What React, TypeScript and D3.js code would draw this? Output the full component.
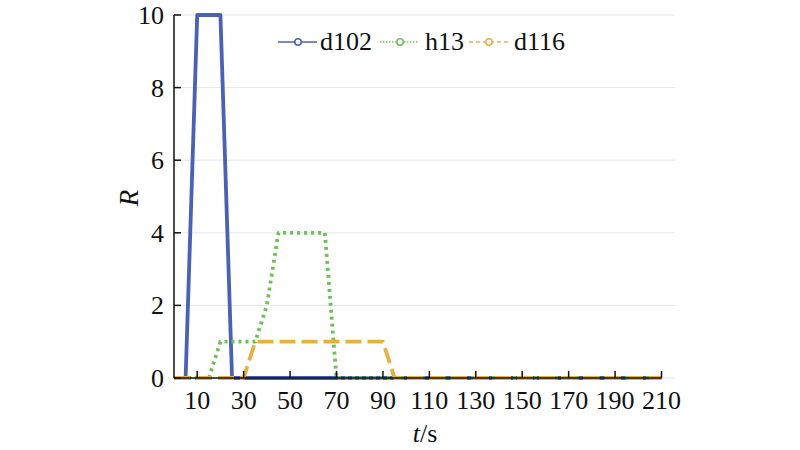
import React from "react";
import * as d3 from "d3";

const tD102 = [5, 10, 15, 20, 25, 30, 40, 50, 60, 70, 80, 90, 100, 110, 120, 130, 140, 150, 160, 170, 180, 190, 200, 210];
const vD102 = [0, 10, 10, 10, 0, 0, 0, 0, 0, 0, 0, 0, 0, 0, 0, 0, 0, 0, 0, 0, 0, 0, 0, 0];
const tH13 = [0, 5, 10, 15, 20, 25, 30, 35, 40, 45, 50, 55, 60, 65, 70, 80, 90, 100, 110, 120, 130, 140, 150, 160, 170, 180, 190, 200, 210];
const vH13 = [0, 0, 0, 0, 1, 1, 1, 1, 2, 4, 4, 4, 4, 4, 0, 0, 0, 0, 0, 0, 0, 0, 0, 0, 0, 0, 0, 0, 0];
const tD116 = [0, 10, 20, 30, 35, 40, 50, 60, 70, 80, 90, 95, 100, 110, 120, 130, 140, 150, 160, 170, 180, 190, 200, 210];
const vD116 = [0, 0, 0, 0, 1, 1, 1, 1, 1, 1, 1, 0, 0, 0, 0, 0, 0, 0, 0, 0, 0, 0, 0, 0];
const xTicks = [10, 30, 50, 70, 90, 110, 130, 150, 170, 190, 210];
const yTicks = [0, 2, 4, 6, 8, 10];
const seriesNames = ["d102", "h13", "d116"];

const COLORS = ["#4A61B4", "#6FC05C", "#E8B040"];
const DASH = [null, "3,4", "16,6"];
const LEGEND_DASH = [null, "1.5,1.5", "4,3"];

export default function App() {
  const x = d3.scaleLinear().domain([0, 210]).range([174, 661.5]);
  const y = d3.scaleLinear().domain([0, 10]).range([378, 15]);
  const font = '"Liberation Serif", "Times New Roman", Times, serif';
  const fs = 26;

  const series = [
    tD102.map((t, i) => [t, vD102[i]] as [number, number]),
    tH13.map((t, i) => [t, vH13[i]] as [number, number]),
    tD116.map((t, i) => [t, vD116[i]] as [number, number]),
  ];
  const line = d3.line<[number, number]>().x((d) => x(d[0])).y((d) => y(d[1]));

  const Txt = ({ tx, ty, anchor, children }: any) => (
    <text x={tx} y={ty} textAnchor={anchor || "start"} fill="#111" style={{ fontFamily: font, fontSize: `${fs}px` }}>
      {children}
    </text>
  );

  const legendX = [278, 380, 469];
  const legendTextX = [320, 425, 514];

  return (
    <svg width={800} height={450} style={{ position: "absolute", left: 0, top: 0, background: "#fff" }}>
      {yTicks.map((v) => (
        <line key={"g" + v} x1={174} x2={675} y1={y(v)} y2={y(v)} stroke="#E4E6F2" strokeWidth={1} />
      ))}
      {series.map((s, i) => (
        <path
          key={"s" + i}
          d={line(s) || ""}
          fill="none"
          stroke={COLORS[i]}
          strokeWidth={3.8}
          strokeDasharray={DASH[i] || undefined}
          strokeLinejoin="round"
        />
      ))}
      <line x1={174} x2={174} y1={y(10)} y2={y(0)} stroke="#111" strokeWidth={1.5} />
      <line x1={174} x2={x(210)} y1={y(0)} y2={y(0)} stroke="#111" strokeWidth={1.5} />
      {yTicks.map((v) => (
        <g key={"yt" + v}>
          <line x1={174} x2={181} y1={y(v)} y2={y(v)} stroke="#111" strokeWidth={1.5} />
          <Txt tx={164} ty={y(v) + 9} anchor="end">{v}</Txt>
        </g>
      ))}
      {xTicks.map((v) => (
        <g key={"xt" + v}>
          <line x1={x(v)} x2={x(v)} y1={y(0)} y2={y(0) - 7} stroke="#111" strokeWidth={1.5} />
          <Txt tx={x(v)} ty={409} anchor="middle">{v}</Txt>
        </g>
      ))}
      <g transform="translate(138,198) rotate(-90)">
        <text textAnchor="middle" fill="#111" style={{ fontFamily: font, fontSize: "27px", fontStyle: "italic" }}>R</text>
      </g>
      <text x={425} y={442} textAnchor="middle" fill="#111" style={{ fontFamily: font, fontSize: `${fs}px` }}>
        <tspan style={{ fontStyle: "italic" }}>t</tspan>/s
      </text>
      {seriesNames.map((name, i) => (
        <g key={"l" + i}>
          <line x1={legendX[i]} x2={legendX[i] + 39} y1={42} y2={42} stroke={COLORS[i]} strokeWidth={1.5} strokeDasharray={LEGEND_DASH[i] || undefined} />
          <circle cx={legendX[i] + 20} cy={42} r={3.2} fill="#fff" stroke={COLORS[i]} strokeWidth={1.5} />
          <Txt tx={legendTextX[i]} ty={50}>{name}</Txt>
        </g>
      ))}
    </svg>
  );
}
